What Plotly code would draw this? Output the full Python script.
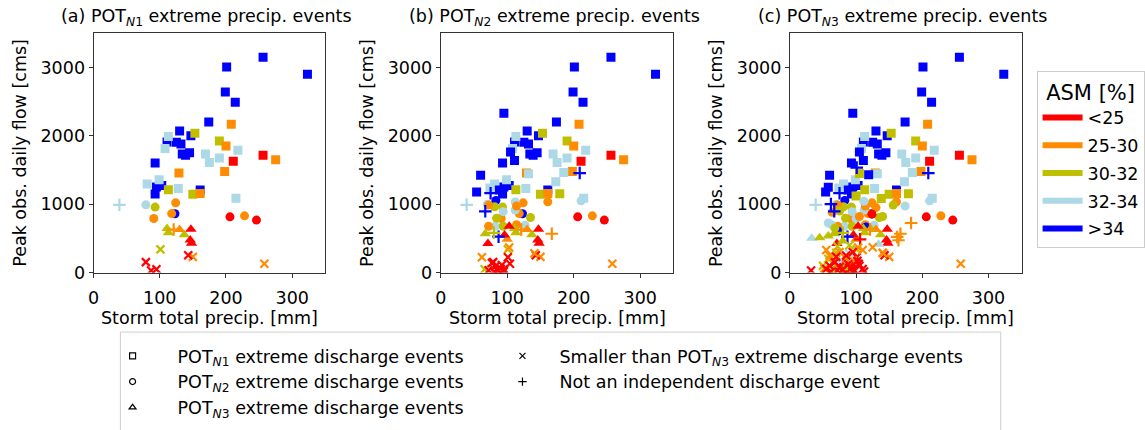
import plotly.graph_objects as go

# ---------------- data ----------------
# ASM class index: 0 "<25", 1 "25-30", 2 "30-32", 3 "32-34", 4 ">34"
ASM_LABELS = ["<25", "25-30", "30-32", "32-34", ">34"]
ASM_COLORS = ["#ff0000", "#ff8c00", "#bfbf00", "#add8e6", "#0000ff"]

# event type: s = POT N1, o = POT N2, ^ = POT N3, x = smaller than POT N3, + = not independent
# Events of the POT_N1 precip set (panel a)
a_precip = [256, 201, 323, 199, 214, 174, 130, 111, 125, 132, 147, 134, 139, 145, 93, 95, 103, 93, 161,
            123,
            113, 108, 169, 175, 190, 218, 81, 99, 128, 215,
            79, 39,
            153, 190, 113, 150, 93, 111, 113, 137, 101,
            208, 200, 129, 198, 275, 161, 124, 118, 91, 228, 130, 121, 150, 258,
            256, 211, 206, 246, 147, 146, 148, 79, 87, 95, 143]
a_flow = [3150, 3005, 2900, 2640, 2490, 2200, 2071, 1910, 1905, 1881, 2000, 1733, 1714, 1752, 1600, 1252, 1271, 1148, 1205,
          860,
          1990, 1814, 1733, 1610, 1676, 1790, 1295, 1357, 1229, 1086,
          990, 990,
          2038, 1924, 1210, 1143, 957, 643, 581, 552, 338,
          2167, 1852, 1457, 1476, 1648, 1157, 1019, 862, 790, 829, 629, 629, 229, 129,
          1714, 1629, 814, 767, 633, 476, 429, 152, 29, 48, 252]
a_event = list("sssssssssssssssssss" + "o" + "ssssssssss" + "o+" + "sssso^^^x" + "ssssssoooo^+xx" + "ssoo^^^xxxx")
a_asm = [4] * 20 + [3] * 12 + [2] * 9 + [1] * 14 + [0] * 11

# Additional events of the POT_N2 precip set (panel b adds these)
b_precip = [95, 105, 111, 60, 54, 88, 83, 67, 87, 209, 75,
            185, 173, 132, 74, 70, 94, 112, 112, 127, 82, 211,
            179, 81, 84, 94, 135, 67, 80, 66,
            72, 72, 114, 114, 161, 100, 167, 103, 62, 141,
            71, 103, 96, 101, 104, 77, 82, 85, 90, 95, 72, 80, 92]
b_flow = [2329, 1762, 1638, 1424, 1176, 1205, 1053, 895, 524, 1455, 1160,
          1462, 1329, 1443, 1235, 1000, 890, 1033, 914, 690, 676, 1048,
          1153, 962, 795, 676, 805, 567, 581, 48,
          986, 676, 972, 700, 1034, 486, 567, 367, 224, 281,
          424, 676, 548, 224, 129, 138, 90, 33, 57, 20, 33, 10, 110]
b_event = list("ssssss" + "o" + "++++" + "ssss" + "ooooooo" + "s" + "oooo" + "^+x" + "ooooo^+xxx" + "^^^xxxxxxxxxx")
b_asm = [4] * 11 + [3] * 11 + [2] * 8 + [1] * 10 + [0] * 13

# Additional events of the POT_N3 precip set (panel c adds these)
c_precip = [119, 58, 115, 73, 101, 62,
            174, 58, 112, 63, 100, 33, 134, 89, 76,
            105, 100, 138, 156, 140, 68, 75, 45, 58, 80, 122, 50, 58, 62, 72, 90, 85, 70,
            64, 105, 130, 164, 183, 162, 55, 60, 65, 75, 85, 95, 110, 125, 140, 52,
            124, 106, 32, 55, 60, 68, 75, 88, 92, 98, 102, 105, 110, 112, 85, 70, 95, 62, 80]
c_flow = [1429, 1248, 667, 605, 1534, 1000,
          972, 724, 1043, 700, 790, 500, 414, 281, 170,
          1448, 1119, 1081, 986, 819, 650, 900, 510, 533, 460, 640, 100, 200, 30, 380, 400, 60, 290,
          880, 820, 950, 472, 724, 520, 330, 250, 150, 300, 200, 180, 330, 370, 290, 60,
          853, 486, 30, 50, 100, 150, 80, 120, 60, 30, 170, 100, 50, 15, 250, 230, 300, 10, 40]
c_event = list("ssoo++" + "ooooo^^xx" + "sssoooo^^^^xxxxxxx" + "ooo+++xxxxxxxxxx" + "o+xxxxxxxxxxxxxxxxx")
c_asm = [4] * 6 + [3] * 9 + [2] * 18 + [1] * 16 + [0] * 19

PANEL_TITLES = ["(a) POT<sub><i>N</i>1</sub> extreme precip. events",
                "(b) POT<sub><i>N</i>2</sub> extreme precip. events",
                "(c) POT<sub><i>N</i>3</sub> extreme precip. events"]
EVENT_NAMES = {"s": "POT<sub><i>N</i>1</sub> extreme discharge events",
               "o": "POT<sub><i>N</i>2</sub> extreme discharge events",
               "^": "POT<sub><i>N</i>3</sub> extreme discharge events",
               "x": "Smaller than POT<sub><i>N</i>3</sub> extreme discharge events",
               "+": "Not an independent discharge event"}
X_TICKS = [0, 100, 200, 300]
Y_TICKS = [0, 1000, 2000, 3000]

# ---------------- figure ----------------
W, H = 1145, 430
FONT = "DejaVu Sans"
FS = 17.5
SYMBOL = {"s": "square", "o": "circle", "^": "triangle-up", "x": "x-thin", "+": "cross-thin"}
SIZE = {"s": 9, "o": 9, "^": 10, "x": 8, "+": 9}

panel_x = [(88, 321), (437, 671), (788, 1021)]
plot_top, plot_bottom = 34, 279

panels = [
    (a_precip, a_flow, a_event, a_asm),
    (a_precip + b_precip, a_flow + b_flow, a_event + b_event, a_asm + b_asm),
    (a_precip + b_precip + c_precip, a_flow + b_flow + c_flow,
     a_event + b_event + c_event, a_asm + b_asm + c_asm),
]

fig = go.Figure()
for pi, (px, py, pe, pa) in enumerate(panels):
    xa = "x" if pi == 0 else f"x{pi+1}"
    ya = "y" if pi == 0 else f"y{pi+1}"
    for ev in ["s", "o", "^", "+", "x"]:
        idx = [i for i in range(len(px)) if pe[i] == ev]
        if not idx:
            continue
        cols = [ASM_COLORS[pa[i]] for i in idx]
        thin = ev in ("x", "+")
        fig.add_trace(go.Scatter(
            x=[px[i] for i in idx], y=[py[i] for i in idx],
            mode="markers", xaxis=xa, yaxis=ya, showlegend=False,
            marker=dict(symbol=SYMBOL[ev], size=SIZE[ev], color=cols,
                        line=dict(color=cols, width=2.2 if thin else 0)),
        ))

# ASM legend (colour lines)
for k, (lab, col) in enumerate(zip(ASM_LABELS, ASM_COLORS)):
    fig.add_trace(go.Scatter(x=[None], y=[None], mode="lines", name=lab,
                             line=dict(color=col, width=6), legend="legend",
                             legendgroup=f"asm{k}"))

# Event type legends (black open markers), two columns
LEG_SYM = {"s": "square-open", "o": "circle-open", "^": "triangle-up-open",
           "x": "x-thin", "+": "cross-thin"}
for ev, leg in [("s", "legend2"), ("o", "legend2"), ("^", "legend2"),
                ("x", "legend3"), ("+", "legend3")]:
    fig.add_trace(go.Scatter(x=[None], y=[None], mode="markers", name=EVENT_NAMES[ev],
                             marker=dict(symbol=LEG_SYM[ev], size=6, color="black",
                                         line=dict(color="black", width=1.2)),
                             legend=leg))

axis_common = dict(showgrid=False, zeroline=False, showline=True, mirror=True,
                   linecolor="#333333", linewidth=1, ticks="outside", ticklen=4,
                   tickcolor="#333333", tickfont=dict(family=FONT, size=FS, color="black"))

ydom = [(H - plot_bottom) / H, (H - plot_top) / H]
layout = dict(width=W, height=H, margin=dict(l=0, r=0, t=0, b=0),
              paper_bgcolor="white", plot_bgcolor="white",
              font=dict(family=FONT, size=FS, color="black"))
annotations = []
for pi, (x0, x1) in enumerate(panel_x):
    sx = "" if pi == 0 else str(pi + 1)
    layout[f"xaxis{sx}"] = dict(domain=[x0 / W, x1 / W], range=[0, 350], tickvals=X_TICKS,
                                anchor=f"y{sx}", ticklabelstandoff=5, **axis_common)
    layout[f"yaxis{sx}"] = dict(domain=ydom, range=[0, 3500], tickvals=Y_TICKS,
                                anchor=f"x{sx}", **axis_common)
    cx = (x0 + x1) / 2 / W
    annotations.append(dict(text=PANEL_TITLES[pi], x=cx - 3 / W, y=(H - 18) / H, xref="paper",
                            yref="paper", showarrow=False, font=dict(size=FS),
                            xanchor="center", yanchor="middle"))
    annotations.append(dict(text="Storm total precip. [mm]", x=cx, y=(H - 326) / H, xref="paper",
                            yref="paper", showarrow=False, font=dict(size=FS),
                            xanchor="center", yanchor="middle"))
    annotations.append(dict(text="Peak obs. daily flow [cms]", x=(x0 - 74) / W,
                            y=(H - (plot_top + plot_bottom) / 2) / H, xref="paper", yref="paper",
                            showarrow=False, font=dict(size=FS), textangle=-90,
                            xanchor="center", yanchor="middle"))
layout["annotations"] = annotations
layout["shapes"] = [dict(type="rect", xref="paper", yref="paper", x0=115 / W, x1=1000 / W,
                         y0=-0.05, y1=(H - 340) / H, line=dict(color="#cccccc", width=1),
                         fillcolor="rgba(0,0,0,0)")]
layout["legend"] = dict(x=1036 / W, y=(H - 73) / H, xanchor="left", yanchor="top",
                        bordercolor="#cccccc", borderwidth=1, bgcolor="white",
                        font=dict(size=FS), title=dict(text="ASM [%]", side="top center"),
                        traceorder="grouped", tracegroupgap=2, itemwidth=40)
layout["legend2"] = dict(x=82 / W, y=(H - 346) / H, xanchor="left", yanchor="top",
                         orientation="v", borderwidth=0, bgcolor="rgba(0,0,0,0)",
                         font=dict(size=FS), itemwidth=80)
layout["legend3"] = dict(x=482 / W, y=(H - 346) / H, xanchor="left", yanchor="top",
                         orientation="v", borderwidth=0, bgcolor="rgba(0,0,0,0)",
                         font=dict(size=FS), itemwidth=64)
fig.update_layout(**layout)
fig.write_html("out.html")
